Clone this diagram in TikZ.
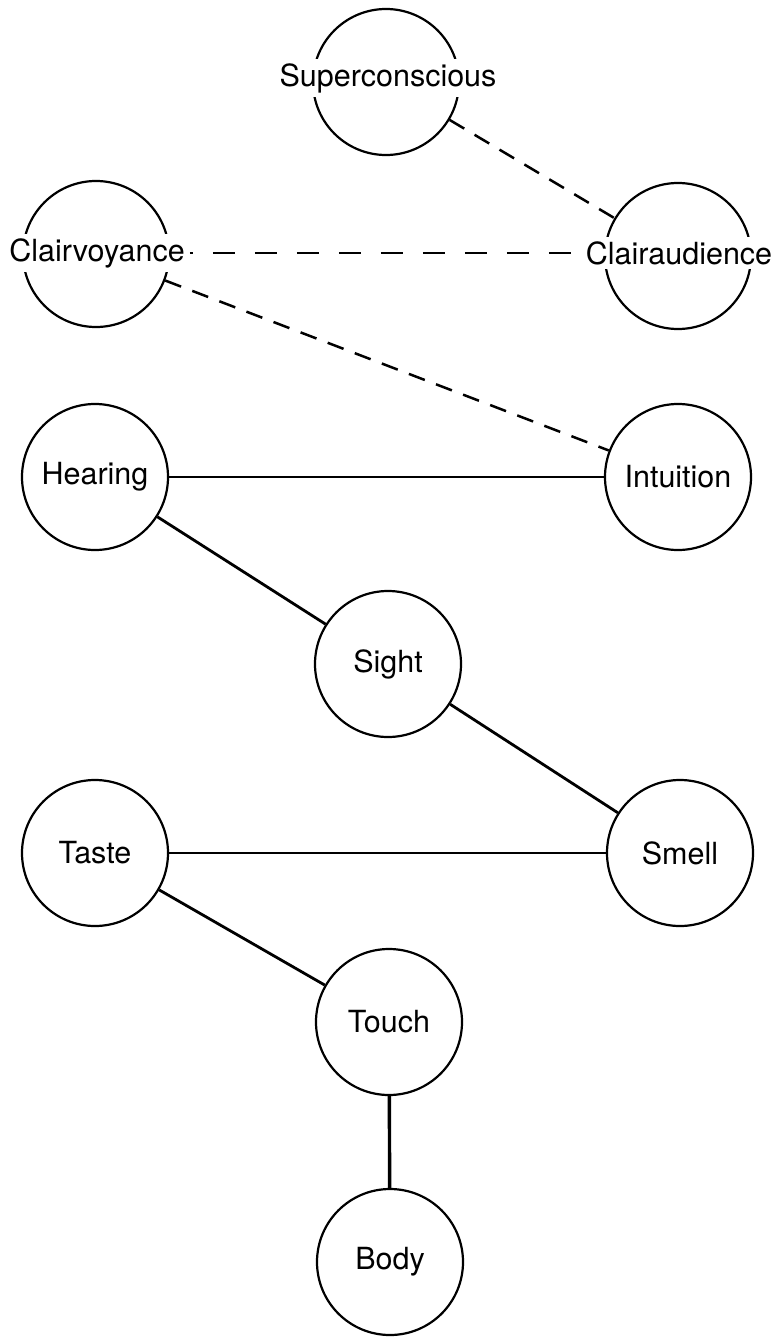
\documentclass[tikz,border=0pt]{standalone}
\usepackage{fontspec}
\setmainfont{TeX Gyre Heros}
\begin{document}
\begin{tikzpicture}[x=1pt,y=-1pt,
  circ/.style={circle,draw,line width=2.2pt,minimum size=146pt,inner sep=0pt},
  lab/.style={font=\fontsize{30.5}{36}\selectfont,fill=white,inner xsep=2pt,inner ysep=4pt},
  solidlink/.style={line width=2.8pt},
  dashlink/.style={line width=2.5pt,dash pattern=on 17pt off 12pt},
  longdash/.style={line width=2.8pt,dash pattern=on 22pt off 20pt,dash phase=19pt}]
  \useasboundingbox (0,0) rectangle (779,1338);

  % circles
  \node[circ] (sc) at (386,82) {};
  \node[circ] (cv) at (96,254) {};
  \node[circ] (ca) at (678,256) {};
  \node[circ] (he) at (95,477) {};
  \node[circ] (in) at (678,477) {};
  \node[circ] (si) at (388,664) {};
  \node[circ] (ta) at (95,853) {};
  \node[circ] (sm) at (680,853) {};
  \node[circ] (to) at (389,1022) {};
  \node[circ] (bo) at (390,1262) {};

  % labels
  \node[lab] (sct) at (388,78) {Superconscious};
  \node[lab] (cvt) at (97,253) {Clairvoyance};
  \node[lab] (cat) at (679,253) {Clairaudience};
  \node[lab] (het) at (he) {Hearing};
  \node[lab] (int) at (in) {Intuition};
  \node[lab] (sit) at (si) {Sight};
  \node[lab] (tat) at (ta) {Taste};
  \node[lab] (smt) at (sm) {Smell};
  \node[lab] (tot) at (to) {Touch};
  \node[lab] (bot) at (bo) {Body};

  % dashed links
  \draw[dashlink] (sc) -- (ca);
  \draw[dashlink] (cv) -- (in);
  \draw[longdash,shorten <=3pt,shorten >=13pt] (cvt.east) -- (cat.west);

  % solid links
  \draw[solidlink] (he) -- (in);
  \draw[solidlink] (he) -- (si);
  \draw[solidlink] (si) -- (sm);
  \draw[solidlink] (ta) -- (sm);
  \draw[solidlink] (ta) -- (to);
  \draw[solidlink,line width=3.4pt] (to) -- (bo);
\end{tikzpicture}
\end{document}
